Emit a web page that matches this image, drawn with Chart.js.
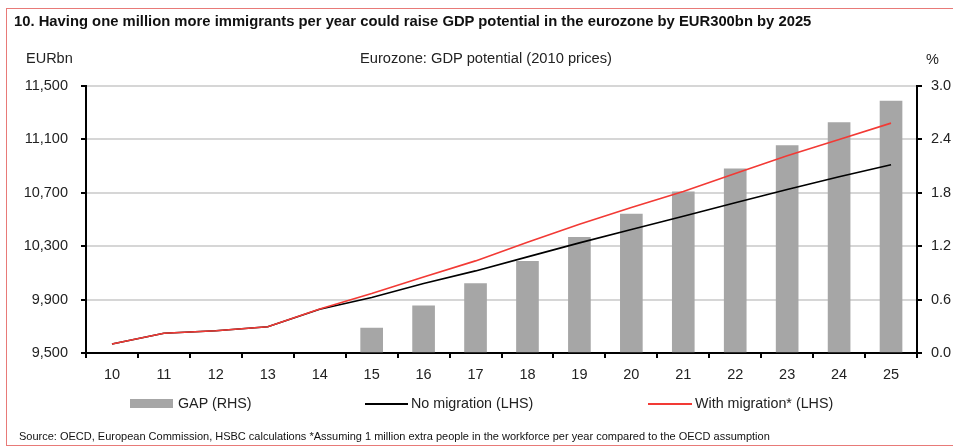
<!DOCTYPE html>
<html>
<head>
<meta charset="utf-8">
<script src="https://cdn.jsdelivr.net/npm/chart.js@4.4.1/dist/chart.umd.min.js"></script>
<style>
  body { margin: 0; background: #fff; }
  #wrap { position: relative; width: 953px; height: 446px; overflow: hidden; font-family: "Liberation Sans", Arial, sans-serif; color: #222; }
  #frame { position: absolute; left: 6px; top: 8px; width: 980px; height: 436px; border: 1px solid #e87a78; }
  #chart { position: absolute; left: 0; top: 0; }
  .txt { position: absolute; white-space: nowrap; }
  #title { left: 14px; top: 13px; font-weight: bold; font-size: 14.8px; color: #111; }
  #subtitle { left: 360px; top: 50px; font-size: 14.7px; }
  #unitL { left: 26px; top: 50px; font-size: 14.5px; }
  #unitR { left: 926px; top: 51px; font-size: 14.5px; }
  #source { left: 19px; top: 430px; font-size: 11px; color: #111; }
  #legend { position: absolute; left: 0; top: 395px; font-size: 14.3px; }
  .item { position: absolute; white-space: nowrap; }
  .swatch { position: absolute; }
</style>
</head>
<body>
<div id="wrap">
  <div id="frame"></div>
  <canvas id="chart" width="953" height="446"></canvas>
  <div class="txt" id="title">10. Having one million more immigrants per year could raise GDP potential in the eurozone by EUR300bn by 2025</div>
  <div class="txt" id="unitL">EURbn</div>
  <div class="txt" id="subtitle">Eurozone: GDP potential (2010 prices)</div>
  <div class="txt" id="unitR">%</div>
  <div id="legend"></div>
  <div class="txt" id="source">Source: OECD, European Commission, HSBC calculations *Assuming 1 million extra people in the workforce per year compared to the OECD assumption</div>
</div>
<script>
// ---- data ----
const years = ["10", "11", "12", "13", "14", "15", "16", "17", "18", "19", "20", "21", "22", "23", "24", "25"];

// GDP potential gap, % (right axis)
const gapPct = [null, null, null, null, null, 0.28, 0.53, 0.78, 1.03, 1.30, 1.56, 1.81, 2.07, 2.33, 2.59, 2.83];

// EURbn (left axis)
const noMigration = [9567, 9648, 9667, 9697, 9828, 9915, 10020, 10115, 10220, 10325, 10425, 10525, 10625, 10725, 10820, 10910];
const withMigration = [9567, 9648, 9667, 9697, 9830, 9945, 10070, 10190, 10330, 10465, 10590, 10710, 10845, 10977, 11100, 11222];

// axis ranges
const leftMin = 9500, leftMax = 11500, leftStep = 400;
const rightMin = 0, rightMax = 3, rightStep = 0.6;

// ---- chart ----
const tickFont = { family: "'Liberation Sans', Arial, sans-serif", size: 14.5 };
const tickColor = "#222";

const chart = new Chart(document.getElementById("chart"), {
  type: "bar",
  data: {
    labels: years,
    datasets: [
      {
        type: "line",
        label: "With migration* (LHS)",
        data: withMigration,
        borderColor: "#f23a35",
        borderWidth: 1.6,
        pointRadius: 0,
        yAxisID: "y",
        order: 1
      },
      {
        type: "line",
        label: "No migration (LHS)",
        data: noMigration,
        borderColor: "#000",
        borderWidth: 1.6,
        pointRadius: 0,
        yAxisID: "y",
        order: 2
      },
      {
        label: "GAP (RHS)",
        data: gapPct,
        backgroundColor: "#a6a6a6",
        barThickness: 22,
        yAxisID: "y1",
        order: 3
      }
    ]
  },
  options: {
    responsive: false,
    animation: false,
    events: [],
    layout: { padding: { top: 86, left: 0, right: 0, bottom: 0 } },
    plugins: { legend: { display: false }, tooltip: { enabled: false } },
    scales: {
      x: {
        offset: true,
        grid: { drawOnChartArea: false, offset: true, tickLength: 5, tickColor: "#000", lineWidth: 2 },
        border: { color: "#000", width: 2 },
        ticks: { font: tickFont, color: tickColor, padding: 8, maxRotation: 0 },
        afterFit: s => { s.height = 93; }
      },
      y: {
        position: "left",
        min: leftMin, max: leftMax,
        grid: { color: "#d6d6d6", lineWidth: 2, tickLength: 5, tickColor: "#000" },
        border: { color: "#000", width: 2 },
        ticks: {
          stepSize: leftStep, font: tickFont, color: tickColor, padding: 13,
          callback: v => v.toLocaleString("en-US")
        },
        afterFit: s => { s.width = 86; }
      },
      y1: {
        position: "right",
        min: rightMin, max: rightMax,
        grid: { drawOnChartArea: false, tickLength: 5, tickColor: "#000", lineWidth: 2 },
        border: { color: "#000", width: 2 },
        ticks: {
          stepSize: rightStep, font: tickFont, color: tickColor, padding: 9,
          callback: v => v.toFixed(1)
        },
        afterFit: s => { s.width = 36; }
      }
    }
  }
});

// ---- legend (html, built from the datasets) ----
const legendSpots = {
  "GAP (RHS)": { sx: 130, sw: 43, tx: 178 },
  "No migration (LHS)": { sx: 365, sw: 43, tx: 411 },
  "With migration* (LHS)": { sx: 648, sw: 44, tx: 695 }
};
const legendEl = document.getElementById("legend");
chart.data.datasets.forEach(ds => {
  const spot = legendSpots[ds.label];
  const sw = document.createElement("div");
  sw.className = "swatch";
  sw.style.left = spot.sx + "px";
  sw.style.width = spot.sw + "px";
  if (ds.type === "line") {
    sw.style.top = "8px";
    sw.style.height = "2px";
    sw.style.background = ds.borderColor;
  } else {
    sw.style.top = "4px";
    sw.style.height = "9px";
    sw.style.background = ds.backgroundColor;
  }
  const tx = document.createElement("div");
  tx.className = "item";
  tx.style.left = spot.tx + "px";
  tx.style.top = "0px";
  tx.textContent = ds.label;
  legendEl.appendChild(sw);
  legendEl.appendChild(tx);
});
</script>
</body>
</html>
